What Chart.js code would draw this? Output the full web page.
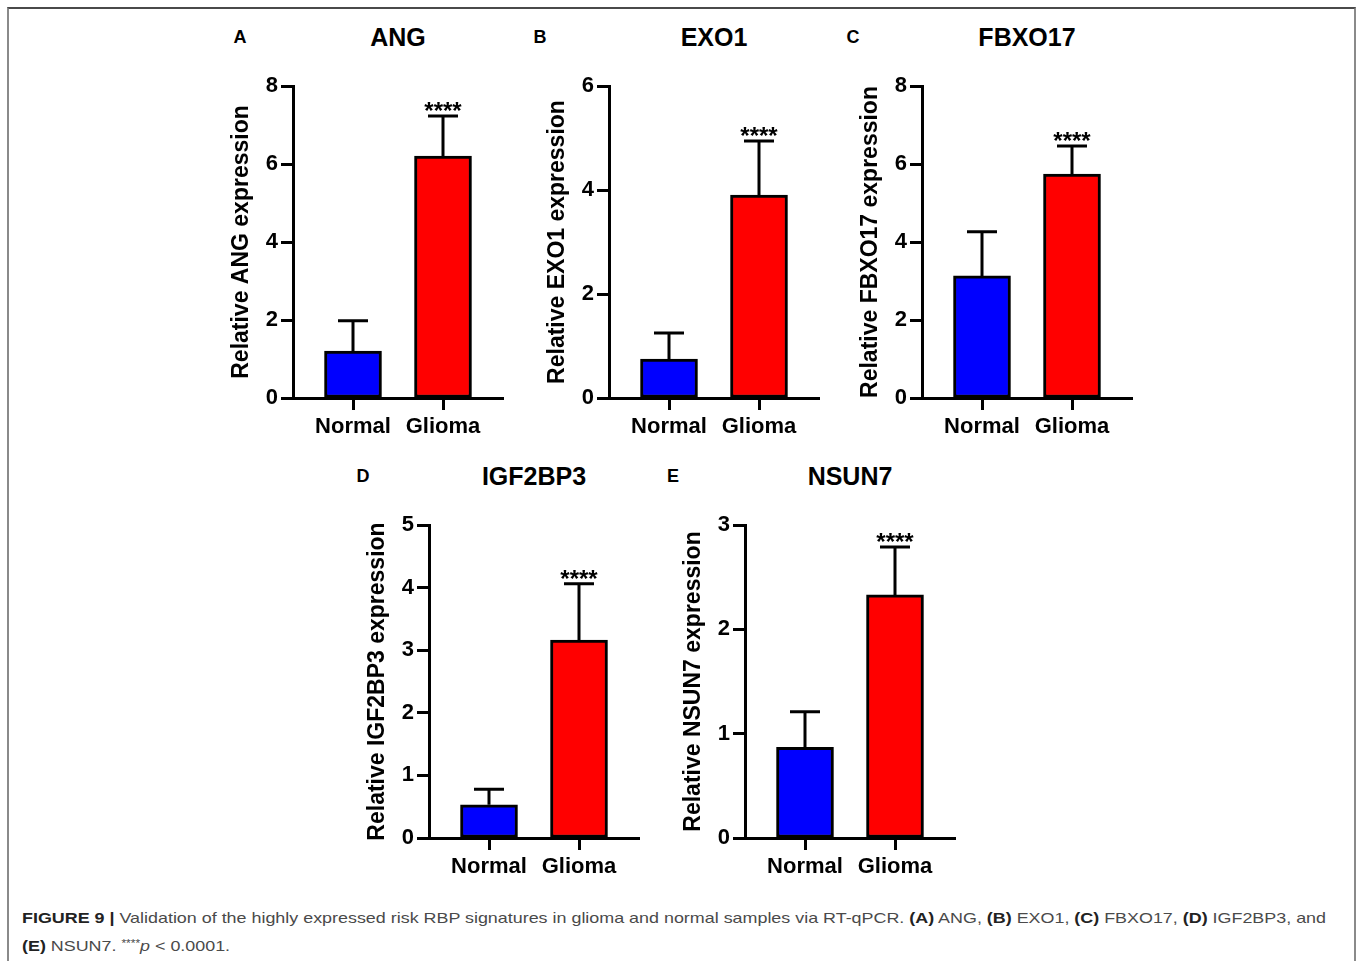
<!DOCTYPE html>
<html lang="en">
<head>
<meta charset="UTF-8">
<title>Figure 9 - RT-qPCR validation</title>
<script src="https://cdn.jsdelivr.net/npm/chart.js"></script>
<style>
  body { margin: 0; background: #fff; width: 1358px; height: 961px; position: relative; overflow: hidden;
         font-family: 'Liberation Sans', Arial, sans-serif; }
  .frame { position: absolute; left: 7px; top: 7px; width: 1345px; height: 970px;
           border-left: 2px solid #8a8a8a; border-right: 2px solid #8a8a8a; border-top: 2px solid #4a4a4a; }
  .panel { position: absolute; }
  .letter, .gene { position: absolute; font-weight: bold; color: #000; transform: translate(-50%, -50%); white-space: nowrap; }
  .letter { font-size: 18px; }
  .gene { font-size: 25px; }
  .caption { position: absolute; left: 22px; font-size: 15px; line-height: 20px; color: #4a4a4a;
             white-space: nowrap; transform-origin: left center; }
  .caption b { color: #222; }
  .caption sup { font-size: 10px; vertical-align: 4px; }
</style>
</head>
<body>
<div class="frame"></div>
<div id="panels"></div>
<div class="caption" id="cap1" style="top:908px"><b>FIGURE 9 |</b> Validation of the highly expressed risk RBP signatures in glioma and normal samples via RT-qPCR. <b>(A)</b> ANG, <b>(B)</b> EXO1, <b>(C)</b> FBXO17, <b>(D)</b> IGF2BP3, and</div>
<div class="caption" id="cap2" style="top:934px"><b>(E)</b> NSUN7. <sup>****</sup><i>p</i> &lt; 0.0001.</div>

<script>
// values
const groups = ['Normal', 'Glioma'];
const letters = ['A', 'B', 'C', 'D', 'E'];
const genes = ['ANG', 'EXO1', 'FBXO17', 'IGF2BP3', 'NSUN7'];
const normalMean = [1.2, 0.75, 3.13, 0.53, 0.87];
const normalSD = [0.78, 0.5, 1.13, 0.25, 0.34];
const gliomaMean = [6.2, 3.9, 5.74, 3.16, 2.33];
const gliomaSD = [1.03, 1.04, 0.72, 0.9, 0.46];
const yMax = [8, 6, 8, 5, 3];
const yStep = [2, 2, 2, 1, 1];
const signif = ['', '****'];

// page placement of each plot: [y axis x, top of axis, bottom of axis, letter x]
const place = [
  [293, 86, 398, 240],
  [609, 86, 398, 540],
  [922, 86, 398, 853],
  [429, 525, 838, 363],
  [745, 525, 838, 673]
];
const PLOT_W = 210, AXIS_W = 68, XAXIS_H = 50, PAD_T = 20, PAD_R = 12;
const FONT = "'Liberation Sans', Arial, sans-serif";

Chart.defaults.font.family = FONT;
Chart.defaults.font.weight = 'bold';
Chart.defaults.color = '#000';

// upward error bar with cap, plus the significance stars
const errorBars = {
  id: 'errorBars',
  afterDatasetsDraw(chart) {
    const { ctx, scales: { x, y } } = chart;
    const ds = chart.data.datasets[0];
    ctx.save();
    ctx.strokeStyle = '#000';
    ctx.fillStyle = '#000';
    ctx.lineWidth = 3;
    ds.data.forEach((pt, i) => {
      const px = x.getPixelForValue(pt.x);
      const yb = y.getPixelForValue(pt.y);
      const yt = y.getPixelForValue(pt.y + ds.sd[i]);
      ctx.beginPath();
      ctx.moveTo(px, yb);
      ctx.lineTo(px, yt);
      ctx.moveTo(px - 15, yt);
      ctx.lineTo(px + 15, yt);
      ctx.stroke();
      if (ds.marks[i]) {
        ctx.font = `bold 24px ${FONT}`;
        ctx.textAlign = 'center';
        ctx.textBaseline = 'alphabetic';
        ctx.fillText(ds.marks[i], px, yt + 3);
      }
    });
    ctx.restore();
  }
};

const holder = document.getElementById('panels');

genes.forEach((gene, i) => {
  const [ax, top, bottom, lx] = place[i];
  const w = AXIS_W + PLOT_W + PAD_R;
  const h = PAD_T + (bottom - top) + XAXIS_H;

  const box = document.createElement('div');
  box.className = 'panel';
  box.style.cssText = `left:${ax - AXIS_W}px;top:${top - PAD_T}px;width:${w}px;height:${h}px`;
  const cv = document.createElement('canvas');
  box.appendChild(cv);
  holder.appendChild(box);

  const lt = document.createElement('div');
  lt.className = 'letter';
  lt.style.cssText = `left:${lx}px;top:${top - 49}px`;
  lt.textContent = letters[i];
  holder.appendChild(lt);

  const gt = document.createElement('div');
  gt.className = 'gene';
  gt.style.cssText = `left:${ax + PLOT_W / 2}px;top:${top - 49}px`;
  gt.textContent = gene;
  holder.appendChild(gt);

  new Chart(cv, {
    type: 'bar',
    data: {
      datasets: [{
        data: [{ x: 1, y: normalMean[i] }, { x: 2, y: gliomaMean[i] }],
        sd: [normalSD[i], gliomaSD[i]],
        marks: signif,
        backgroundColor: ['#0000ff', '#ff0000'],
        borderColor: '#000',
        borderWidth: 3,
        borderSkipped: false,
        barThickness: 57
      }]
    },
    options: {
      responsive: true,
      maintainAspectRatio: false,
      animation: false,
      events: [],
      layout: { padding: { top: PAD_T, right: PAD_R, left: 0, bottom: 0 } },
      plugins: { legend: { display: false }, tooltip: { enabled: false } },
      scales: {
        x: {
          type: 'linear',
          min: 1 / 3,
          max: 8 / 3,
          offset: false,
          afterBuildTicks: s => { s.ticks = groups.map((g, k) => ({ value: k + 1 })); },
          afterFit: s => { s.height = XAXIS_H; },
          ticks: { callback: v => groups[Math.round(v) - 1], font: { family: FONT, size: 22, weight: 'bold' }, padding: 4, maxRotation: 0, autoSkip: false },
          grid: { offset: false, drawOnChartArea: false, tickLength: 12, tickWidth: 3, tickColor: '#000' },
          border: { color: '#000', width: 3 }
        },
        y: {
          min: 0,
          max: yMax[i],
          afterFit: s => { s.width = AXIS_W; },
          ticks: { stepSize: yStep[i], font: { family: FONT, size: 22, weight: 'bold' }, padding: 3 },
          grid: { drawOnChartArea: false, tickLength: 12, tickWidth: 3, tickColor: '#000' },
          border: { color: '#000', width: 3 },
          title: { display: true, text: `Relative ${gene} expression`, font: { family: FONT, size: 23, weight: 'bold' }, padding: { top: 3, bottom: 0 } }
        }
      }
    },
    plugins: [errorBars]
  });
});

// stretch the caption to the width it has in the figure
const c1 = document.getElementById('cap1');
const c2 = document.getElementById('cap2');
const k = 1304 / c1.offsetWidth;
c1.style.transform = `scaleX(${k})`;
c2.style.transform = `scaleX(${k})`;
</script>
</body>
</html>
